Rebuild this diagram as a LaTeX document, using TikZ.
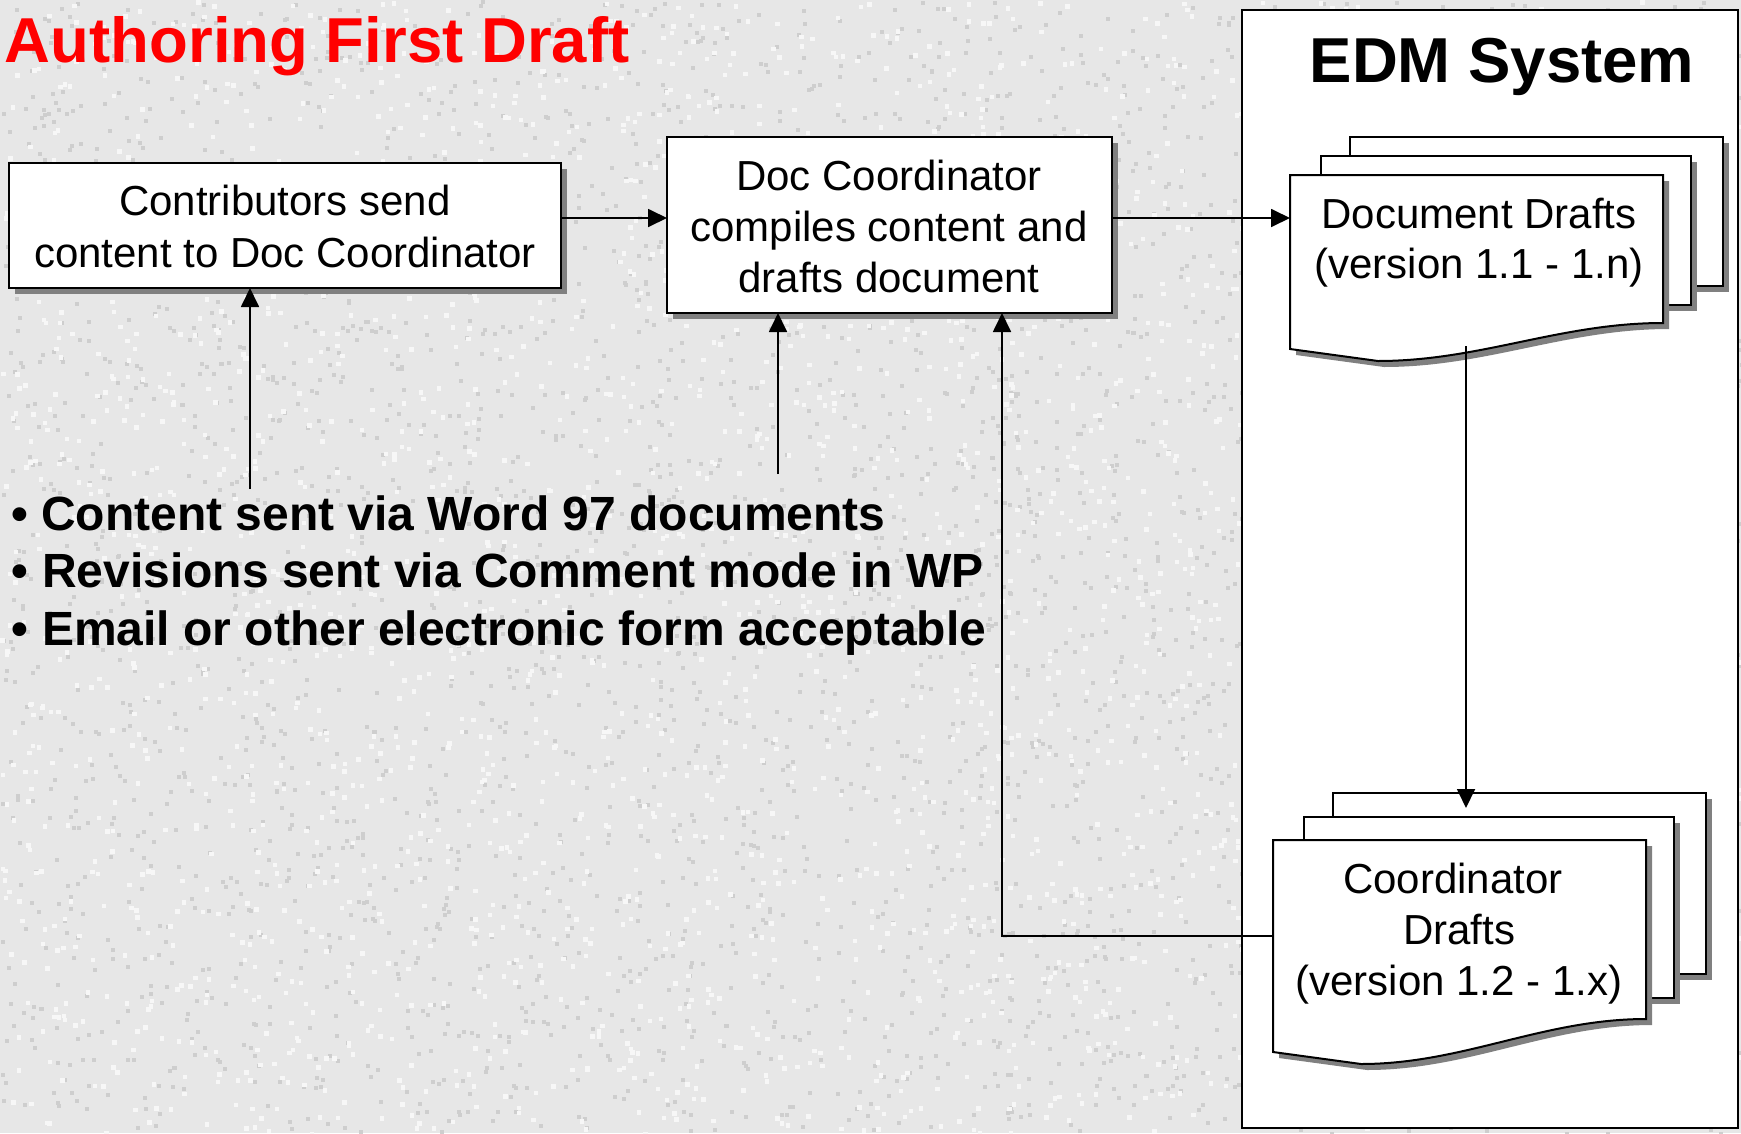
\documentclass[tikz,border=0pt]{standalone}
\usepackage{fontspec}
\setmainfont{Liberation Sans}
\usetikzlibrary{arrows.meta}
\definecolor{bggray}{RGB}{231,231,231}
\definecolor{speckdark}{RGB}{206,206,206}
\definecolor{specklight}{RGB}{247,247,247}
\definecolor{shadowgray}{RGB}{128,128,128}
\definecolor{titlered}{RGB}{255,0,0}
% front sheet of a document stack: left, top, right, right-bottom, left-bottom
\newcommand\drawsheet[5]{%
  \fill[shadowgray] ({#1+6},{#2+6}) -- ({#3+6},{#2+6}) -- ({#3+6},{#4+6})
     .. controls ({#1+276},{#4+6}) and ({#1+196},{#5+18}) .. ({#1+94},{#5+18})
     -- ({#1+6},{#5+6}) -- cycle;
  \filldraw[fill=white, draw=black, line width=2pt, line join=miter]
     (#1,#2) -- (#3,#2) -- (#3,#4)
     .. controls ({#1+270},#4) and ({#1+190},{#5+12}) .. ({#1+88},{#5+12})
     -- (#1,#5) -- cycle;}
\begin{document}
\begin{tikzpicture}[x=1pt,y=-1pt,
  shadowed/.style={preaction={fill=shadowgray, transform canvas={shift={(6pt,-6pt)}}}},
  box/.style={draw=black, line width=2pt, fill=white, inner sep=0pt, outer sep=0pt, anchor=north west, shadowed},
  sheetrect/.style={draw=black, line width=2pt, fill=white, inner sep=0pt, outer sep=0pt, anchor=north west, shadowed},
  frame/.style={draw=black, line width=2pt, fill=white, inner sep=0pt, outer sep=0pt, anchor=north west},
  hold/.style={inner sep=0pt, outer sep=0pt, anchor=north west},
  txt/.style={inner sep=0pt, outer sep=0pt, anchor=base, font=\fontsize{42pt}{50pt}\selectfont},
  bul/.style={inner sep=0pt, outer sep=0pt, anchor=base west, font=\fontsize{48pt}{58pt}\selectfont\bfseries},
  ttl/.style={inner sep=0pt, outer sep=0pt, font=\fontsize{63.5pt}{70pt}\selectfont\bfseries},
  conn/.style={draw=black, line width=1.8pt, -{Triangle[length=19pt,width=18pt]}}
]
\useasboundingbox (0,0) rectangle (1741,1133);
% textured background
\fill[bggray] (0,0) rectangle (1741,1133);
\pgfmathsetseed{4711}
\foreach \i in {1,...,3800}{\fill[speckdark] ({rnd*1741},{rnd*1133}) rectangle ++(4,4);}
\foreach \i in {1,...,3000}{\fill[specklight] ({rnd*1741},{rnd*1133}) rectangle ++(4.5,4.5);}

% title
\node[ttl, anchor=base west, text=titlered] (title) at (5,62) {Authoring First Draft};

% EDM container
\node[frame, minimum width=496pt, minimum height=1118pt] (edm) at (1242,10) {};
\node[ttl, anchor=base] (edmtitle) at (1502,82) {EDM System};

% boxes
\node[box, minimum width=552pt, minimum height=125pt] (b1) at (9,163) {};
\node[txt] (b1l1) at (285,215) {Contributors send};
\node[txt] (b1l2) at (285,267) {content to Doc Coordinator};

\node[box, minimum width=445pt, minimum height=176pt] (b2) at (667,137) {};
\node[txt] (b2l1) at (889,190) {Doc Coordinator};
\node[txt] (b2l2) at (889,241) {compiles content and};
\node[txt] (b2l3) at (889,292) {drafts document};

% Document Drafts stack
\node[sheetrect, minimum width=373pt, minimum height=149pt] (ddb) at (1350,137) {};
\node[sheetrect, minimum width=370pt, minimum height=149pt] (ddm) at (1321,156) {};
\drawsheet{1290}{175}{1663}{323}{349}
\node[hold, minimum width=373pt, minimum height=174pt] (dd) at (1290,175) {};
\node[txt] (ddl1) at (1479,228) {Document Drafts};
\node[txt] (ddl2) at (1479,278) {(version 1.1 - 1.n)};

% Coordinator Drafts stack
\node[sheetrect, minimum width=373pt, minimum height=181pt] (cdb) at (1333,793) {};
\node[sheetrect, minimum width=370pt, minimum height=181pt] (cdm) at (1304,817) {};
\drawsheet{1273}{840}{1646}{1019}{1052}
\node[hold, minimum width=373pt, minimum height=212pt] (cd) at (1273,840) {};
\node[txt] (cdl1) at (1453,893) {Coordinator};
\node[txt] (cdl2) at (1459,944) {Drafts};
\node[txt] (cdl3) at (1459,995) {(version 1.2 - 1.x)};

% bullet text
\node[bul] (bl1) at (11,530) {\textbullet\ Content sent via Word 97 documents};
\node[bul] (bl2) at (12,587) {\textbullet\ Revisions sent via Comment mode in WP};
\node[bul] (bl3) at (12,645) {\textbullet\ Email or other electronic form acceptable};

% connector helpers
\coordinate (rowA) at (0,218);
\coordinate (s1) at (250,489);
\coordinate (s2) at (778,474);
\coordinate (j) at (1002,936);
\coordinate (d1) at (1466,346);

% connectors
\draw[conn] (b1.east |- rowA) -- (b2.west |- rowA);
\draw[conn] (b2.east |- rowA) -- (dd.west |- rowA);
\draw[conn] (s1) -- (s1 |- b1.south);
\draw[conn] (s2) -- (s2 |- b2.south);
\draw[conn] (cd.west |- j) -- (j) -- (j |- b2.south);
\draw[conn, shorten >=-15pt] (d1) -- (d1 |- cdb.north);
\end{tikzpicture}
\end{document}
